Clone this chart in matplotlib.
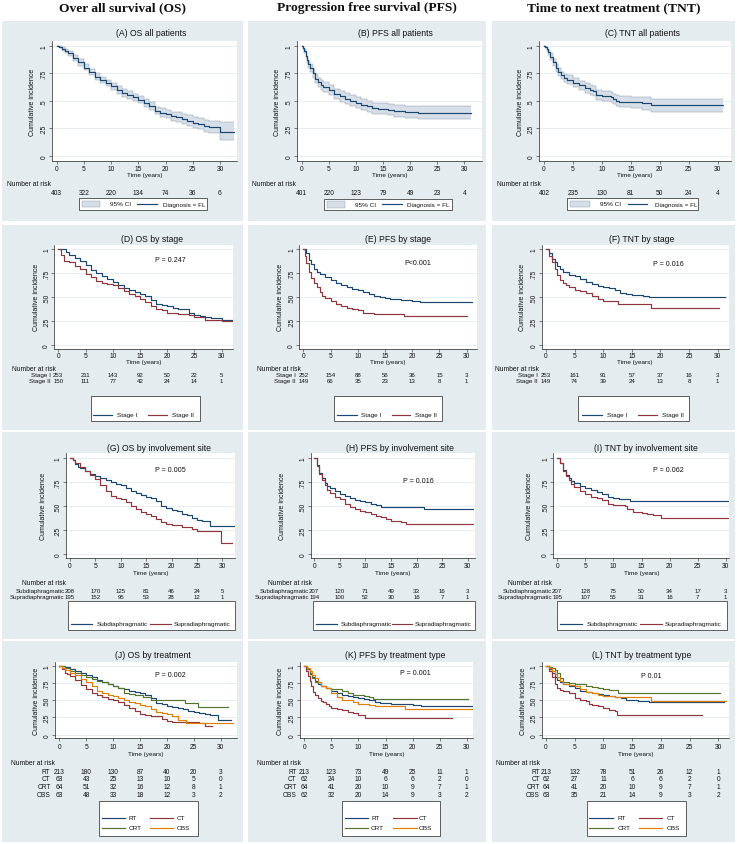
import matplotlib
matplotlib.use('Agg')
import matplotlib.pyplot as plt
from matplotlib.patches import Rectangle
from matplotlib.lines import Line2D
import matplotlib.transforms as mtrans

plt.rcParams['font.family'] = ['Liberation Sans', 'DejaVu Sans']

# ---------------- data ----------------
col_titles = ["Over all survival (OS)", "Progression free survival (PFS)", "Time to next treatment (TNT)"]
x_ticks = [0, 5, 10, 15, 20, 25, 30]

# (A) OS all patients
A_t = [0, 0.5, 1, 1.5, 2, 3, 4, 5, 6, 7, 8, 9, 10, 11, 12, 13, 14, 15, 16, 17, 18, 19, 20, 21, 22, 23, 24, 25, 26, 27, 28, 29, 30, 32.5]
A_s = [1, 0.99, 0.97, 0.95, 0.93, 0.89, 0.85, 0.80, 0.76, 0.72, 0.69, 0.66, 0.63, 0.60, 0.57, 0.55, 0.53, 0.51, 0.48, 0.45, 0.41, 0.39, 0.38, 0.36, 0.35, 0.33, 0.32, 0.30, 0.29, 0.27, 0.26, 0.26, 0.22, 0.22]
A_lo = [1, 0.98, 0.95, 0.93, 0.905, 0.86, 0.82, 0.775, 0.735, 0.69, 0.66, 0.63, 0.595, 0.565, 0.535, 0.515, 0.495, 0.475, 0.445, 0.415, 0.375, 0.35, 0.34, 0.32, 0.305, 0.285, 0.27, 0.25, 0.24, 0.215, 0.205, 0.205, 0.14, 0.14]
A_hi = [1, 1.0, 0.985, 0.97, 0.955, 0.92, 0.88, 0.83, 0.79, 0.75, 0.72, 0.69, 0.66, 0.635, 0.605, 0.585, 0.565, 0.545, 0.515, 0.485, 0.445, 0.43, 0.42, 0.40, 0.395, 0.375, 0.37, 0.35, 0.34, 0.325, 0.315, 0.315, 0.31, 0.31]
A_risk = [403, 322, 220, 134, 74, 36, 6]

# (B) PFS all patients
B_t = [0, 0.25, 0.5, 0.75, 1, 1.25, 1.5, 2, 2.5, 3, 3.5, 4, 5, 6, 7, 8, 9, 10, 11, 12, 13, 14, 16, 17, 19, 21.5, 31.3]
B_s = [1, 0.98, 0.95, 0.91, 0.87, 0.83, 0.80, 0.75, 0.70, 0.67, 0.645, 0.625, 0.595, 0.565, 0.54, 0.52, 0.50, 0.48, 0.465, 0.45, 0.43, 0.425, 0.42, 0.41, 0.40, 0.39, 0.39]
B_lo = [1, 0.965, 0.93, 0.885, 0.84, 0.8, 0.765, 0.71, 0.66, 0.625, 0.6, 0.58, 0.55, 0.515, 0.49, 0.47, 0.45, 0.43, 0.415, 0.4, 0.38, 0.375, 0.37, 0.355, 0.345, 0.33, 0.33]
B_hi = [1, 0.995, 0.97, 0.935, 0.9, 0.865, 0.835, 0.79, 0.74, 0.71, 0.69, 0.67, 0.64, 0.61, 0.585, 0.57, 0.55, 0.53, 0.515, 0.5, 0.48, 0.475, 0.47, 0.46, 0.455, 0.45, 0.45]
B_risk = [401, 220, 123, 79, 49, 23, 4]

# (C) TNT all patients
C_t = [0, 0.25, 0.5, 0.75, 1, 1.5, 2, 2.5, 3, 3.5, 4, 5, 6, 7, 8, 8.5, 9, 10, 11, 11.5, 12, 12.5, 13, 15, 17, 18.5, 31]
C_s = [1, 0.99, 0.97, 0.94, 0.90, 0.85, 0.80, 0.76, 0.73, 0.71, 0.69, 0.665, 0.64, 0.615, 0.60, 0.585, 0.555, 0.545, 0.545, 0.535, 0.52, 0.50, 0.49, 0.485, 0.475, 0.46, 0.46]
C_lo = [1, 0.975, 0.95, 0.915, 0.87, 0.815, 0.765, 0.725, 0.695, 0.67, 0.65, 0.625, 0.6, 0.57, 0.555, 0.54, 0.51, 0.5, 0.5, 0.49, 0.47, 0.45, 0.44, 0.435, 0.42, 0.40, 0.40]
C_hi = [1, 1, 0.99, 0.965, 0.93, 0.88, 0.835, 0.795, 0.765, 0.745, 0.73, 0.705, 0.68, 0.66, 0.645, 0.63, 0.6, 0.59, 0.59, 0.58, 0.565, 0.55, 0.54, 0.535, 0.53, 0.52, 0.52]
C_risk = [402, 235, 130, 81, 50, 24, 4]

# (D) OS by stage
D1_t = [0, 1.5, 2, 3, 4, 5, 6, 7, 8, 9, 10, 11, 12, 13, 14, 15, 16, 17, 18, 19, 20, 21, 22, 23, 24, 25, 26, 27, 28, 30, 32.5]
D1_s = [1, 0.97, 0.94, 0.91, 0.87, 0.83, 0.78, 0.75, 0.72, 0.69, 0.66, 0.62, 0.59, 0.57, 0.55, 0.53, 0.51, 0.47, 0.43, 0.42, 0.41, 0.39, 0.38, 0.37, 0.33, 0.31, 0.30, 0.29, 0.28, 0.26, 0.23]
D2_t = [0, 0.5, 1, 2, 3, 4, 5, 6, 7, 8, 9, 10, 11, 12, 13, 14, 15, 16, 17, 18, 19, 20, 22, 24, 25, 27, 30, 32]
D2_s = [1, 0.94, 0.88, 0.86, 0.82, 0.79, 0.74, 0.71, 0.67, 0.65, 0.64, 0.62, 0.59, 0.56, 0.53, 0.51, 0.48, 0.45, 0.41, 0.37, 0.36, 0.33, 0.32, 0.31, 0.29, 0.26, 0.25, 0.25]
D1_risk = [253, 211, 143, 92, 50, 22, 5]
D2_risk = [150, 111, 77, 42, 24, 14, 1]

# (E) PFS by stage
E1_t = [0, 0.5, 1, 1.5, 2, 2.5, 3, 4, 5, 6, 7, 8, 9, 10, 11, 12, 13, 14, 15, 16, 18, 20, 21.5, 31]
E1_s = [1, 0.96, 0.89, 0.84, 0.79, 0.76, 0.735, 0.705, 0.675, 0.645, 0.62, 0.60, 0.585, 0.57, 0.555, 0.535, 0.51, 0.50, 0.49, 0.475, 0.465, 0.46, 0.45, 0.45]
E2_t = [0, 0.25, 0.5, 1, 1.5, 2, 2.5, 3, 3.5, 4, 5, 6, 7, 8, 9, 10, 11, 12, 13, 15, 18.5, 30]
E2_s = [1, 0.93, 0.85, 0.76, 0.70, 0.65, 0.60, 0.555, 0.51, 0.485, 0.46, 0.43, 0.41, 0.39, 0.37, 0.36, 0.335, 0.33, 0.32, 0.32, 0.30, 0.30]
E1_risk = [252, 154, 88, 56, 36, 15, 3]
E2_risk = [149, 66, 35, 23, 13, 8, 1]

# (F) TNT by stage
F1_t = [0, 0.5, 1, 1.5, 2, 2.5, 3, 4, 5, 6, 7, 8, 9, 10, 11, 12, 13, 14, 15, 16, 17, 18, 31.3]
F1_s = [1, 0.96, 0.90, 0.86, 0.82, 0.79, 0.76, 0.73, 0.72, 0.69, 0.66, 0.64, 0.61, 0.60, 0.59, 0.57, 0.54, 0.53, 0.525, 0.52, 0.51, 0.50, 0.50]
F2_t = [0, 0.5, 1, 1.5, 2, 2.5, 3, 3.5, 4, 5, 6, 7, 8, 9, 10, 12.5, 18.3, 30.3]
F2_s = [1, 0.93, 0.86, 0.79, 0.73, 0.68, 0.65, 0.62, 0.60, 0.575, 0.56, 0.54, 0.51, 0.48, 0.455, 0.43, 0.39, 0.39]
F1_risk = [253, 161, 91, 57, 37, 16, 3]
F2_risk = [149, 74, 39, 24, 13, 8, 1]

# (G) OS by involvement site
G1_t = [0, 0.5, 1, 1.5, 2, 3, 4, 5, 6, 7, 8, 9, 10, 11, 12, 13, 14, 15, 16, 17, 18, 19, 20, 21, 22, 23, 24, 25, 26, 27.5, 32.5]
G1_s = [1, 0.98, 0.94, 0.91, 0.90, 0.87, 0.84, 0.81, 0.79, 0.77, 0.75, 0.73, 0.72, 0.69, 0.66, 0.64, 0.62, 0.60, 0.58, 0.55, 0.50, 0.48, 0.46, 0.45, 0.42, 0.41, 0.38, 0.36, 0.34, 0.29, 0.29]
G2_t = [0, 0.5, 1, 2, 3, 4, 5, 6, 7, 8, 9, 10, 11, 12, 13, 14, 15, 16, 17, 18, 19, 20, 22, 24, 25, 29.8, 32]
G2_s = [1, 0.98, 0.95, 0.91, 0.87, 0.83, 0.78, 0.72, 0.66, 0.61, 0.59, 0.57, 0.54, 0.50, 0.47, 0.44, 0.42, 0.40, 0.37, 0.33, 0.31, 0.30, 0.28, 0.26, 0.24, 0.12, 0.12]
G1_risk = [208, 170, 125, 81, 46, 24, 5]
G2_risk = [195, 152, 95, 53, 28, 12, 1]

# (H) PFS by involvement site
H1_t = [0, 0.5, 1, 1.5, 2, 2.5, 3, 4, 5, 6, 7, 8, 9, 10, 11, 12, 13, 21.5, 31]
H1_s = [1, 0.93, 0.85, 0.79, 0.74, 0.71, 0.69, 0.66, 0.63, 0.61, 0.58, 0.56, 0.55, 0.54, 0.52, 0.51, 0.49, 0.47, 0.47]
H2_t = [0, 0.5, 1, 1.5, 2, 2.5, 3, 4, 5, 6, 7, 8, 9, 10, 11, 12, 13, 14, 15, 16, 17, 18, 31]
H2_s = [1, 0.92, 0.84, 0.77, 0.72, 0.67, 0.64, 0.60, 0.575, 0.52, 0.49, 0.47, 0.45, 0.44, 0.42, 0.40, 0.39, 0.37, 0.35, 0.34, 0.33, 0.31, 0.31]
H1_risk = [207, 120, 71, 49, 33, 16, 3]
H2_risk = [194, 100, 52, 30, 16, 7, 1]

# (I) TNT by involvement site
I1_t = [0, 0.5, 1, 1.5, 2, 2.5, 3, 4, 5, 6, 7, 8, 9, 10, 11, 12, 13, 31.3]
I1_s = [1, 0.95, 0.88, 0.83, 0.79, 0.76, 0.74, 0.715, 0.69, 0.67, 0.65, 0.63, 0.60, 0.59, 0.575, 0.57, 0.55, 0.55]
I2_t = [0, 0.5, 1, 1.5, 2, 2.5, 3, 4, 5, 6, 7, 8, 9, 10, 12, 12.5, 13.5, 15, 16, 17, 18.5, 30.5]
I2_s = [1, 0.95, 0.87, 0.82, 0.77, 0.73, 0.70, 0.66, 0.63, 0.60, 0.585, 0.56, 0.52, 0.51, 0.50, 0.47, 0.44, 0.43, 0.42, 0.41, 0.38, 0.38]
I1_risk = [207, 128, 75, 50, 34, 17, 3]
I2_risk = [195, 107, 55, 31, 16, 7, 1]

# (J) OS by treatment
J_rt_t = [0, 1, 2, 3, 4, 5, 6, 7, 8, 9, 10, 11, 12, 13, 14, 15, 16, 17, 18, 19, 20, 21, 22, 23, 24, 25, 26, 27, 28, 29.5, 32]
J_rt_s = [1, 0.98, 0.95, 0.92, 0.89, 0.86, 0.83, 0.79, 0.76, 0.73, 0.70, 0.68, 0.66, 0.64, 0.62, 0.60, 0.57, 0.53, 0.46, 0.44, 0.42, 0.40, 0.39, 0.37, 0.35, 0.33, 0.32, 0.30, 0.29, 0.22, 0.22]
J_ct_t = [0, 0.5, 1, 1.5, 2, 3, 4, 5, 6, 7, 8, 9, 10, 11, 12, 13, 14, 15, 16, 17, 19, 20, 21, 23, 26, 27, 28.3]
J_ct_s = [1, 0.95, 0.90, 0.88, 0.85, 0.79, 0.72, 0.66, 0.61, 0.57, 0.55, 0.52, 0.50, 0.47, 0.43, 0.39, 0.34, 0.30, 0.28, 0.27, 0.23, 0.20, 0.19, 0.18, 0.17, 0.12, 0.12]
J_crt_t = [0, 1, 2, 3, 4, 5, 6, 7, 8, 9, 10, 11, 12, 13, 14, 15, 15.6, 17, 23.4, 25.8, 31.4]
J_crt_s = [1, 0.97, 0.93, 0.90, 0.87, 0.84, 0.81, 0.78, 0.76, 0.73, 0.71, 0.67, 0.61, 0.59, 0.58, 0.575, 0.54, 0.51, 0.46, 0.40, 0.40]
J_obs_t = [0, 0.5, 1, 2, 3, 4, 5, 6, 7, 8, 9, 10, 11, 12, 13, 14, 15, 16, 17, 18, 19, 20, 21, 22, 23.5, 32.3]
J_obs_s = [1, 0.97, 0.94, 0.90, 0.86, 0.81, 0.76, 0.70, 0.64, 0.60, 0.58, 0.56, 0.53, 0.50, 0.48, 0.46, 0.43, 0.41, 0.37, 0.33, 0.31, 0.30, 0.27, 0.22, 0.17, 0.17]
J_rt_risk = [213, 180, 130, 87, 40, 20, 3]
J_ct_risk = [63, 43, 25, 13, 10, 5, 0]
J_crt_risk = [64, 51, 32, 16, 12, 8, 1]
J_obs_risk = [63, 48, 33, 18, 12, 3, 2]

# (K) PFS by treatment type
K_rt_t = [0, 0.5, 1, 1.5, 2, 2.5, 3, 4, 5, 6, 7, 8, 9, 10, 11, 12, 13, 14, 16, 18, 20, 21.5, 31]
K_rt_s = [1, 0.95, 0.88, 0.83, 0.78, 0.74, 0.71, 0.67, 0.64, 0.61, 0.58, 0.56, 0.54, 0.53, 0.52, 0.50, 0.48, 0.46, 0.45, 0.44, 0.43, 0.41, 0.41]
K_ct_t = [0, 0.3, 0.6, 1, 1.3, 1.6, 2, 2.5, 3, 3.5, 4, 4.5, 5, 6, 7, 8, 9, 10, 11.3, 27.2]
K_ct_s = [1, 0.93, 0.85, 0.78, 0.70, 0.62, 0.57, 0.53, 0.49, 0.47, 0.45, 0.42, 0.39, 0.37, 0.36, 0.33, 0.32, 0.29, 0.24, 0.24]
K_crt_t = [0, 0.5, 1, 1.5, 2, 3, 4, 5, 6, 7, 8, 9, 10, 11, 12, 12.75, 30.2]
K_crt_s = [1, 0.95, 0.89, 0.82, 0.77, 0.70, 0.67, 0.66, 0.66, 0.64, 0.61, 0.58, 0.57, 0.56, 0.55, 0.52, 0.52]
K_obs_t = [0, 0.5, 1, 1.5, 2, 2.5, 3, 4, 5, 6, 7, 8, 9, 10, 11, 12, 13, 14, 18.6, 31.2]
K_obs_s = [1, 0.97, 0.92, 0.87, 0.82, 0.77, 0.71, 0.67, 0.60, 0.55, 0.51, 0.50, 0.48, 0.45, 0.44, 0.43, 0.42, 0.41, 0.37, 0.37]
K_rt_risk = [213, 123, 73, 49, 25, 11, 1]
K_ct_risk = [62, 24, 10, 6, 6, 2, 0]
K_crt_risk = [64, 41, 20, 10, 9, 7, 1]
K_obs_risk = [62, 32, 20, 14, 9, 3, 2]

# (L) TNT by treatment type
L_rt_t = [0, 0.5, 1, 1.5, 2, 2.5, 3, 4, 5, 6, 7, 8, 9, 10, 11, 12, 13, 14, 15, 16, 17, 18, 31]
L_rt_s = [1, 0.95, 0.89, 0.84, 0.79, 0.76, 0.74, 0.70, 0.67, 0.64, 0.62, 0.60, 0.59, 0.57, 0.56, 0.55, 0.53, 0.51, 0.50, 0.495, 0.49, 0.47, 0.47]
L_ct_t = [0, 0.5, 1, 1.5, 2, 2.5, 3, 4, 5, 6, 7, 7.5, 8, 9, 10, 11, 12, 12.3, 27.1]
L_ct_s = [1, 0.92, 0.83, 0.73, 0.68, 0.65, 0.63, 0.60, 0.53, 0.51, 0.49, 0.45, 0.43, 0.41, 0.38, 0.36, 0.35, 0.29, 0.29]
L_crt_t = [0, 0.5, 1, 1.5, 2, 2.5, 3, 4, 5, 6, 7, 8, 9, 10, 11, 12.6, 30.3]
L_crt_s = [1, 0.98, 0.96, 0.94, 0.90, 0.82, 0.77, 0.75, 0.74, 0.73, 0.71, 0.69, 0.67, 0.66, 0.65, 0.60, 0.60]
L_obs_t = [0, 0.5, 1, 1.5, 2, 2.5, 3, 4, 5, 6, 7, 8, 9, 10, 11, 12, 13, 18.3, 31.3]
L_obs_s = [1, 0.97, 0.93, 0.88, 0.83, 0.78, 0.74, 0.72, 0.71, 0.66, 0.62, 0.61, 0.58, 0.56, 0.555, 0.55, 0.54, 0.49, 0.49]
L_rt_risk = [213, 132, 78, 51, 26, 12, 1]
L_ct_risk = [62, 27, 11, 6, 6, 2, 0]
L_crt_risk = [64, 41, 20, 10, 9, 7, 1]
L_obs_risk = [63, 35, 21, 14, 9, 3, 2]

# ---------------- style ----------------
W, H = 737, 845
BG = '#e4ecf0'
GRID = '#dfe7ec'
CI_FILL = '#d6dee7'
CI_EDGE = '#8d9db0'
NAVY = '#1a476f'
MAROON = '#90353b'
GREEN = '#55752f'
ORANGE = '#e37e00'
TXT = '#111111'

fig = plt.figure(figsize=(W / 100, H / 100), dpi=100)
fig.patch.set_facecolor('white')

def fx(px):
    return px / W

def fy(py):
    return 1 - py / H

col_bg = [(2, 243), (248, 486), (492, 735)]
row_bg = [(22, 222), (226, 431), (433, 640), (642, 843)]

for x1, x2 in col_bg:
    for y1, y2 in row_bg:
        fig.add_artist(Rectangle((fx(x1), fy(y2)), fx(x2) - fx(x1), fy(y1) - fy(y2),
                                 transform=fig.transFigure, facecolor=BG, edgecolor='none', zorder=0))

for txt, cx in zip(col_titles, [123, 366.7, 613.3]):
    fig.text(fx(cx), fy(8.5), txt, ha='center', va='center', fontsize=9.7,
             fontweight='bold', family=['Liberation Serif', 'DejaVu Serif'], color=TXT)

# row geometry
rows = [
    dict(top=42, y1=46.7, y0=156.7, bottom=162, title_y=34, xlab_y=176, nar_y=184.3, risk_y=[193.5], pad=0.6, rfs=4.8),
    dict(top=245.7, y1=250, y0=346, bottom=350, title_y=239.3, xlab_y=362.8, nar_y=370, risk_y=[376, 381.9], pad=0.0, rfs=4.4),
    dict(top=454, y1=459.3, y0=555, bottom=559.3, title_y=449, xlab_y=573.3, nar_y=583.3, risk_y=[591.5, 597.3], pad=0.6, rfs=4.4),
    dict(top=662.7, y1=666.7, y0=735.7, bottom=739.3, title_y=656, xlab_y=755, nar_y=764, risk_y=[772.3, 779.3, 787.3, 795.3], pad=1.2, rfs=4.8),
]

def legend_box(x1, x2, y1, y2):
    fig.add_artist(Rectangle((fx(x1), fy(y2)), fx(x2) - fx(x1), fy(y1) - fy(y2),
                             transform=fig.transFigure, facecolor='white', edgecolor='#222222', lw=0.5, zorder=3))

def legend_line(xa, xb, y, color):
    fig.add_artist(Line2D([fx(xa), fx(xb)], [fy(y), fy(y)], transform=fig.transFigure,
                          color=color, lw=0.85, zorder=4))

def legend_text(x, y, s):
    fig.text(fx(x), fy(y), s, ha='left', va='center', fontsize=4.6, color=TXT, zorder=5)

def panel(row, x0, x30, left, right, title, title_x, ylab_x, curves, risk, nar_x,
          lab_right=None, ci=None, pval=None, ytl=None, lab_fs=4.5):
    r = rows[row]
    s = (x30 - x0) / 30.0
    ys = r['y0'] - r['y1']
    ax = fig.add_axes([fx(left), fy(r['bottom']), fx(right) - fx(left), fy(r['top']) - fy(r['bottom'])])
    ax.set_facecolor('white')
    ax.set_xlim((left - x0) / s, (right - x0) / s)
    ax.set_ylim(-(r['bottom'] - r['y0']) / ys, 1 + (r['y1'] - r['top']) / ys)
    for sp in ['top', 'right']:
        ax.spines[sp].set_visible(False)
    for sp in ['left', 'bottom']:
        ax.spines[sp].set_linewidth(0.5)
        ax.spines[sp].set_color('#222222')
    ax.set_xticks(x_ticks)
    ax.set_xticklabels([str(v) for v in x_ticks], fontsize=4.8, color=TXT)
    ax.set_yticks([0, 0.25, 0.5, 0.75, 1])
    ax.set_yticklabels(ytl, fontsize=4.8, rotation=90, va='center', color=TXT)
    ax.tick_params(axis='x', length=2.2, width=0.4, pad=r['pad'], colors='#222222', labelcolor=TXT)
    ax.tick_params(axis='y', length=2.2, width=0.4, pad=0.8, colors='#222222', labelcolor=TXT)
    for v in [0, 0.25, 0.5, 0.75, 1]:
        ax.axhline(v, color=GRID, lw=0.5, zorder=0)
    if ci is not None:
        t, lo, hi = ci
        ax.fill_between(t, lo, hi, step='post', color=CI_FILL, lw=0, zorder=1)
        ax.step(t, lo, where='post', color=CI_EDGE, lw=0.35, zorder=2)
        ax.step(t, hi, where='post', color=CI_EDGE, lw=0.35, zorder=2)
    for t, sv, c in curves:
        ax.step(t, sv, where='post', color=c, lw=0.85, zorder=3)
    if pval is not None:
        ptxt, px, py = pval
        ax.text(px, py, ptxt, ha='center', va='center', fontsize=5.1, color=TXT)
    fig.text(fx(title_x), fy(r['title_y']), title, ha='center', va='center', fontsize=6.2, color=TXT)
    fig.text(fx(ylab_x), fy((r['top'] + r['bottom']) / 2), 'Cumulative incidence', rotation=90,
             ha='center', va='center', fontsize=5, color=TXT)
    tr = mtrans.blended_transform_factory(ax.transAxes, fig.transFigure)
    ax.text(0.5, fy(r['xlab_y']), 'Time (years)', transform=tr, ha='center', va='center', fontsize=4.6, color=TXT)
    fig.text(fx(nar_x), fy(r['nar_y']), 'Number at risk', ha='left', va='center', fontsize=4.9, color=TXT)
    trd = mtrans.blended_transform_factory(ax.transData, fig.transFigure)
    for (lab, vals), yy in zip(risk, r['risk_y']):
        if lab:
            fig.text(fx(lab_right), fy(yy), lab, ha='right', va='center', fontsize=lab_fs, color=TXT)
        for tv, n in zip(x_ticks, vals):
            ax.text(tv, fy(yy), str(n), transform=trd, ha='center', va='center', fontsize=r['rfs'],
                    color=TXT, clip_on=False)
    return ax

yt1 = ['0', '.25', '.5', '.75', '1']
yt2 = ['0', '.25', '.50', '.75', '1']

# ---------- Row 1 ----------
panel(0, 56.7, 220, 52, 237, '(A) OS all patients', 151, 33,
      [(A_t, A_s, NAVY)], [(None, A_risk)], 7, ci=(A_t, A_lo, A_hi), ytl=yt1)
panel(0, 301.7, 464.3, 297, 482, '(B) PFS all patients', 395.7, 277.3,
      [(B_t, B_s, NAVY)], [(None, B_risk)], 251.7, ci=(B_t, B_lo, B_hi), ytl=yt1)
panel(0, 544, 717.7, 539, 731, '(C) TNT all patients', 642.7, 520,
      [(C_t, C_s, NAVY)], [(None, C_risk)], 496.7, ci=(C_t, C_lo, C_hi), ytl=yt1)

for (bx1, bx2, by1, by2), (p1, p2, t1, l1, l2, t2) in zip(
        [(79, 207, 199, 211), (324, 452.3, 199.7, 211), (567.3, 698.3, 199.3, 210.7)],
        [(81.7, 100, 110, 136.7, 156.7, 163.3), (326.7, 345, 355, 381.7, 401.7, 406.7),
         (570, 590, 600, 628.3, 646.7, 655)]):
    legend_box(bx1, bx2, by1, by2)
    yc = (by1 + by2) / 2
    fig.add_artist(Rectangle((fx(p1), fy(yc + 3.3)), fx(p2) - fx(p1), fy(yc - 3.3) - fy(yc + 3.3),
                             transform=fig.transFigure, facecolor=CI_FILL, edgecolor=CI_EDGE, lw=0.3, zorder=4))
    legend_text(t1, yc, '95% CI')
    legend_line(l1, l2, yc, NAVY)
    legend_text(t2, yc, 'Diagnosis = FL')

# ---------- Row 2 ----------
panel(1, 58.3, 221.7, 54.3, 233, '(D) OS by stage', 152, 36,
      [(D1_t, D1_s, NAVY), (D2_t, D2_s, MAROON)],
      [('Stage I', D1_risk), ('Stage II', D2_risk)], 11.7, lab_right=51,
      pval=('P = 0.247', 20.5, 0.89), ytl=yt2)
panel(1, 303.3, 466.7, 299.3, 477, '(E) PFS by stage', 398, 281,
      [(E1_t, E1_s, NAVY), (E2_t, E2_s, MAROON)],
      [('Stage I', E1_risk), ('Stage II', E2_risk)], 256.7, lab_right=295.5,
      pval=('P<0.001', 21, 0.86), ytl=yt2)
panel(1, 546, 717.7, 541.7, 728.7, '(F) TNT by stage', 642, 522.3,
      [(F1_t, F1_s, NAVY), (F2_t, F2_s, MAROON)],
      [('Stage I', F1_risk), ('Stage II', F2_risk)], 495, lab_right=538,
      pval=('P = 0.016', 21.4, 0.85), ytl=yt2)

for (bx1, bx2), (l1a, l1b, t1, l2a, l2b, t2) in zip(
        [(90.7, 200), (334.3, 442.3), (578.3, 689.3)],
        [(92.7, 111.7, 116.7, 148.3, 166.7, 171.7), (336.7, 356.7, 361, 391.7, 410, 415),
         (581.7, 601.7, 606.7, 638.3, 656.7, 661.7)]):
    legend_box(bx1, bx2, 396.7, 421.7)
    legend_line(l1a, l1b, 416, NAVY)
    legend_text(t1, 416, 'Stage I')
    legend_line(l2a, l2b, 416, MAROON)
    legend_text(t2, 416, 'Stage II')

# ---------- Row 3 ----------
panel(2, 70, 222.3, 66, 235, '(G) OS by involvement site', 159, 43.3,
      [(G1_t, G1_s, NAVY), (G2_t, G2_s, MAROON)],
      [('Subdiaphragmatic', G1_risk), ('Supradiaphragmatic', G2_risk)], 21.7, lab_right=64.5,
      pval=('P = 0.005', 19.7, 0.88), ytl=yt2, lab_fs=4.4)
panel(2, 314.3, 467.7, 311, 475, '(H) PFS by involvement site', 400, 282.7,
      [(H1_t, H1_s, NAVY), (H2_t, H2_s, MAROON)],
      [('Subdiaphragmatic', H1_risk), ('Supradiaphragmatic', H2_risk)], 267.7, lab_right=309,
      pval=('P = 0.016', 20.3, 0.77), ytl=yt2, lab_fs=4.4)
panel(2, 557.3, 725.7, 553.3, 729.3, '(I) TNT by involvement site', 646, 529.3,
      [(I1_t, I1_s, NAVY), (I2_t, I2_s, MAROON)],
      [('Subdiaphragmatic', I1_risk), ('Supradiaphragmatic', I2_risk)], 508.3, lab_right=552,
      pval=('P = 0.062', 19.8, 0.88), ytl=yt2, lab_fs=4.4)

for (bx1, bx2), (l1a, l1b, t1, l2a, l2b, t2) in zip(
        [(68.3, 235), (313.3, 475), (556.7, 726.7)],
        [(70.5, 91.7, 96.7, 150, 170.7, 173.3), (315.5, 336.7, 340.7, 391.7, 411.7, 415),
         (559.5, 581.7, 586.7, 640, 661.7, 665)]):
    legend_box(bx1, bx2, 602.3, 630.7)
    legend_line(l1a, l1b, 625, NAVY)
    legend_text(t1, 625, 'Subdiaphragmatic')
    legend_line(l2a, l2b, 625, MAROON)
    legend_text(t2, 625, 'Supradiaphragmatic')

# ---------- Row 4 ----------
panel(3, 59.3, 220.7, 55, 236.7, '(J) OS by treatment', 152.7, 36,
      [(J_rt_t, J_rt_s, NAVY), (J_ct_t, J_ct_s, MAROON), (J_crt_t, J_crt_s, GREEN), (J_obs_t, J_obs_s, ORANGE)],
      [('RT', J_rt_risk), ('CT', J_ct_risk), ('CRT', J_crt_risk), ('OBS', J_obs_risk)], 11, lab_right=50.5,
      pval=('P = 0.002', 20.6, 0.87), ytl=yt2, lab_fs=4.7)
panel(3, 304.3, 466.7, 300, 472.7, '(K) PFS by treatment type', 395.5, 281,
      [(K_rt_t, K_rt_s, NAVY), (K_ct_t, K_ct_s, MAROON), (K_crt_t, K_crt_s, GREEN), (K_obs_t, K_obs_s, ORANGE)],
      [('RT', K_rt_risk), ('CT', K_ct_risk), ('CRT', K_crt_risk), ('OBS', K_obs_risk)], 257.3, lab_right=296.7,
      pval=('P = 0.001', 20.6, 0.90), ytl=yt2, lab_fs=4.7)
panel(3, 546, 718.3, 541.7, 729, '(L) TNT by treatment type', 641.7, 523.3,
      [(L_rt_t, L_rt_s, NAVY), (L_ct_t, L_ct_s, MAROON), (L_crt_t, L_crt_s, GREEN), (L_obs_t, L_obs_s, ORANGE)],
      [('RT', L_rt_risk), ('CT', L_ct_risk), ('CRT', L_crt_risk), ('OBS', L_obs_risk)], 496, lab_right=540,
      pval=('P 0.01', 18.4, 0.865), ytl=yt2, lab_fs=4.7)

for (bx1, bx2), (l1a, l1b, t1, l2a, l2b, t2) in zip(
        [(99.3, 198.3), (342.3, 440), (586.7, 686)],
        [(101.7, 125, 128.3, 150, 172.7, 176.7), (345, 368.3, 371, 393.3, 416.7, 419),
         (589.3, 613.3, 617.3, 639.3, 661.7, 666.7)]):
    legend_box(bx1, bx2, 801.7, 836.7)
    legend_line(l1a, l1b, 819, NAVY)
    legend_text(t1, 819, 'RT')
    legend_line(l2a, l2b, 819, MAROON)
    legend_text(t2, 819, 'CT')
    legend_line(l1a, l1b, 829, GREEN)
    legend_text(t1, 829, 'CRT')
    legend_line(l2a, l2b, 829, ORANGE)
    legend_text(t2, 829, 'OBS')

fig.savefig('out.png', dpi=100, facecolor='white')
